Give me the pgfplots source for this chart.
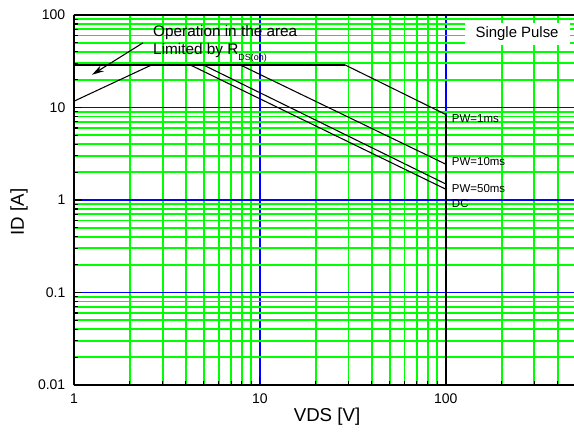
\documentclass[border=0pt]{standalone}
\usepackage{fontspec}
\setmainfont{Liberation Sans}
\usepackage{pgfplots}
\pgfplotsset{compat=1.18}
\usetikzlibrary{arrows.meta}
\definecolor{gridgreen}{RGB}{0,255,0}
\definecolor{gridblue}{RGB}{0,0,255}
\begin{document}
\begin{tikzpicture}
\useasboundingbox (-55.5pt,-42.75pt) rectangle (375pt,288.75pt);
\begin{axis}[
  at={(0,0)}, anchor=south west,
  scale only axis, width=375pt, height=277.5pt,
  xmode=log, ymode=log,
  xmin=1, xmax=490, ymin=0.01, ymax=100,
  log ticks with fixed point,
  /pgf/number format/assume math mode=true,
  xtick={1,10,100}, ytick={0.01,0.1,1,10,100},
  minor xtick={2,3,4,5,6,7,8,9,20,30,40,50,60,70,80,90,200,300,400},
  minor ytick={0.02,0.03,0.04,0.05,0.06,0.07,0.08,0.09,0.2,0.3,0.4,0.5,0.6,0.7,0.8,0.9,2,3,4,5,6,7,8,9,20,30,40,50,60,70,80,90},
  tick pos=left,
  tick align=inside,
  major tick length=6pt, minor tick length=3pt,
  tick style={black, line width=0.8pt},
  axis y line*=left,
  axis line style={black, line width=1.1pt},
  grid=both,
  every axis grid/.style={},
  grid style={gridgreen, line width=1.4pt},
  minor grid style={gridgreen, line width=1.4pt},
  major grid style={gridblue, line width=1.4pt},
  ticklabel style={font=\fontsize{10.5}{12}\selectfont},
  xticklabel style={yshift=-3pt},
  yticklabel style={xshift=-3pt},
  xlabel={VDS [V]}, ylabel={ID [A]},
  every axis x label/.style={at={(axis description cs:0.506,-0.0865)}, anchor=center, font=\fontsize{14}{16}\selectfont},
  every axis y label/.style={at={(axis description cs:-0.11,0.4676)}, anchor=center, rotate=90, font=\fontsize{14}{16}\selectfont},
  clip=false,
]
% RDS(on) limit
\addplot[black, line width=0.8pt] coordinates {(1,11.7) (2.63,29)};
% current limit + PW=1ms
\addplot[black, line width=1.3pt] coordinates {(1,29) (28.6,29)};
\addplot[black, line width=0.8pt] coordinates {(28.6,29) (100,8.4)};
% PW=10ms
\addplot[black, line width=0.8pt] coordinates {(7.8,29) (100,2.44)};
% PW=50ms
\addplot[black, line width=0.8pt] coordinates {(4.94,29) (100,1.49)};
% DC
\addplot[black, line width=0.8pt] coordinates {(4.2,29) (100,1.31)};
% voltage limit
\addplot[black, line width=1.4pt] coordinates {(100,0.01) (100,8.4)};

\draw[black, line width=0.8pt, -{Stealth[length=9pt,width=5pt]}] (axis cs:2.35,50) -- (axis cs:1.25,22.6);

\node[anchor=base west, inner sep=0pt, font=\fontsize{11.5}{13}\selectfont] at (axis cs:2.66,58) {Operation in the area};
\node[anchor=base west, inner sep=0pt, font=\fontsize{11.5}{13}\selectfont] at (axis cs:2.66,37.2) {Limited by R\raisebox{-4.5pt}{\fontsize{6.7}{7}\selectfont DS(on)}};

\node[fill=white, inner sep=0pt, minimum width=78.75pt, minimum height=16.5pt, font=\fontsize{11.2}{13}\selectfont] at (axis cs:242,62.5) {Single Pulse};

\node[anchor=base west, inner sep=0pt, font=\fontsize{8.6}{10}\selectfont] at (axis cs:107.7,6.9) {PW=1ms};
\node[anchor=base west, inner sep=0pt, font=\fontsize{8.6}{10}\selectfont] at (axis cs:107.7,2.38) {PW=10ms};
\node[anchor=base west, inner sep=0pt, font=\fontsize{8.6}{10}\selectfont] at (axis cs:107.7,1.22) {PW=50ms};
\node[anchor=base west, inner sep=0pt, font=\fontsize{8.6}{10}\selectfont] at (axis cs:107.7,0.84) {DC};
\end{axis}
\end{tikzpicture}
\end{document}
